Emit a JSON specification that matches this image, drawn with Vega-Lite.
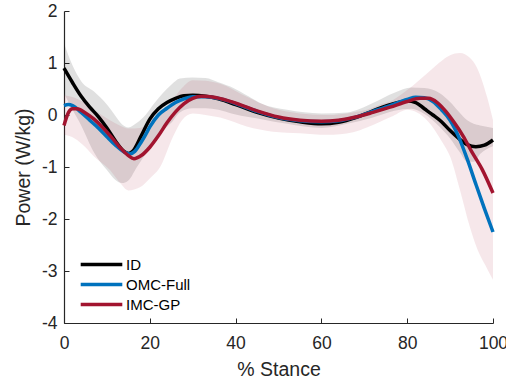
{
  "$schema": "https://vega.github.io/schema/vega-lite/v6.json",
  "width": 429,
  "height": 312,
  "autosize": {"type": "none"},
  "padding": {"left": 64, "top": 11, "right": 13, "bottom": 58},
  "config": {
    "view": {"stroke": null},
    "font": "Liberation Sans",
    "axis": {
      "grid": false,
      "labelFlush": false,
      "domainColor": "#262626",
      "domainWidth": 1.2,
      "tickColor": "#262626",
      "tickSize": -5,
      "labelColor": "#262626",
      "titleColor": "#262626",
      "labelFontSize": 17.5,
      "titleFontSize": 19.5,
      "titleFontWeight": "normal",
      "labelFont": "Liberation Sans",
      "titleFont": "Liberation Sans",
      "labelExpr": "replace(datum.label, '\u2212', '-')"
    },
    "legend": {"labelFont": "Liberation Sans"}
  },
  "datasets": {
    "lines": [
      {"series": "ID", "x": 0, "y": 0.9}, {"series": "ID", "x": 2, "y": 0.62}, {"series": "ID", "x": 4, "y": 0.36}, {"series": "ID", "x": 6, "y": 0.15}, {"series": "ID", "x": 8, "y": -0.03}, {"series": "ID", "x": 10, "y": -0.25}, {"series": "ID", "x": 12, "y": -0.5}, {"series": "ID", "x": 14, "y": -0.7}, {"series": "ID", "x": 15, "y": -0.74}, {"series": "ID", "x": 16, "y": -0.7}, {"series": "ID", "x": 18, "y": -0.4}, {"series": "ID", "x": 20, "y": -0.08}, {"series": "ID", "x": 22, "y": 0.12}, {"series": "ID", "x": 24, "y": 0.24}, {"series": "ID", "x": 26, "y": 0.32}, {"series": "ID", "x": 28, "y": 0.37}, {"series": "ID", "x": 30, "y": 0.38}, {"series": "ID", "x": 33, "y": 0.36}, {"series": "ID", "x": 36, "y": 0.31}, {"series": "ID", "x": 40, "y": 0.2}, {"series": "ID", "x": 45, "y": 0.05}, {"series": "ID", "x": 50, "y": -0.06}, {"series": "ID", "x": 55, "y": -0.13}, {"series": "ID", "x": 60, "y": -0.17}, {"series": "ID", "x": 64, "y": -0.14}, {"series": "ID", "x": 68, "y": -0.05}, {"series": "ID", "x": 72, "y": 0.08}, {"series": "ID", "x": 76, "y": 0.2}, {"series": "ID", "x": 80, "y": 0.27}, {"series": "ID", "x": 82, "y": 0.24}, {"series": "ID", "x": 84, "y": 0.12}, {"series": "ID", "x": 86, "y": 0.0}, {"series": "ID", "x": 88, "y": -0.13}, {"series": "ID", "x": 90, "y": -0.3}, {"series": "ID", "x": 92, "y": -0.45}, {"series": "ID", "x": 94, "y": -0.57}, {"series": "ID", "x": 96, "y": -0.61}, {"series": "ID", "x": 98, "y": -0.58}, {"series": "ID", "x": 100, "y": -0.48},
      {"series": "OMC-Full", "x": 0, "y": 0.18}, {"series": "OMC-Full", "x": 1, "y": 0.2}, {"series": "OMC-Full", "x": 2, "y": 0.18}, {"series": "OMC-Full", "x": 4, "y": 0.05}, {"series": "OMC-Full", "x": 6, "y": -0.1}, {"series": "OMC-Full", "x": 8, "y": -0.25}, {"series": "OMC-Full", "x": 10, "y": -0.42}, {"series": "OMC-Full", "x": 12, "y": -0.58}, {"series": "OMC-Full", "x": 14, "y": -0.71}, {"series": "OMC-Full", "x": 15.3, "y": -0.75}, {"series": "OMC-Full", "x": 16.5, "y": -0.7}, {"series": "OMC-Full", "x": 18, "y": -0.52}, {"series": "OMC-Full", "x": 19, "y": -0.38}, {"series": "OMC-Full", "x": 20, "y": -0.23}, {"series": "OMC-Full", "x": 22, "y": 0.0}, {"series": "OMC-Full", "x": 24, "y": 0.13}, {"series": "OMC-Full", "x": 26, "y": 0.24}, {"series": "OMC-Full", "x": 28, "y": 0.31}, {"series": "OMC-Full", "x": 30, "y": 0.35}, {"series": "OMC-Full", "x": 33, "y": 0.35}, {"series": "OMC-Full", "x": 37, "y": 0.3}, {"series": "OMC-Full", "x": 40, "y": 0.22}, {"series": "OMC-Full", "x": 45, "y": 0.07}, {"series": "OMC-Full", "x": 50, "y": -0.05}, {"series": "OMC-Full", "x": 55, "y": -0.11}, {"series": "OMC-Full", "x": 60, "y": -0.13}, {"series": "OMC-Full", "x": 64, "y": -0.11}, {"series": "OMC-Full", "x": 68, "y": -0.04}, {"series": "OMC-Full", "x": 72, "y": 0.07}, {"series": "OMC-Full", "x": 76, "y": 0.18}, {"series": "OMC-Full", "x": 80, "y": 0.3}, {"series": "OMC-Full", "x": 82, "y": 0.34}, {"series": "OMC-Full", "x": 84, "y": 0.33}, {"series": "OMC-Full", "x": 86, "y": 0.26}, {"series": "OMC-Full", "x": 88, "y": 0.1}, {"series": "OMC-Full", "x": 90, "y": -0.1}, {"series": "OMC-Full", "x": 92, "y": -0.42}, {"series": "OMC-Full", "x": 94, "y": -0.85}, {"series": "OMC-Full", "x": 96, "y": -1.33}, {"series": "OMC-Full", "x": 98, "y": -1.8}, {"series": "OMC-Full", "x": 100, "y": -2.25},
      {"series": "IMC-GP", "x": 0, "y": -0.2}, {"series": "IMC-GP", "x": 1, "y": 0.04}, {"series": "IMC-GP", "x": 2, "y": 0.12}, {"series": "IMC-GP", "x": 3, "y": 0.12}, {"series": "IMC-GP", "x": 5, "y": 0.04}, {"series": "IMC-GP", "x": 7, "y": -0.08}, {"series": "IMC-GP", "x": 9, "y": -0.24}, {"series": "IMC-GP", "x": 11, "y": -0.42}, {"series": "IMC-GP", "x": 13, "y": -0.62}, {"series": "IMC-GP", "x": 15, "y": -0.78}, {"series": "IMC-GP", "x": 16.3, "y": -0.84}, {"series": "IMC-GP", "x": 18, "y": -0.78}, {"series": "IMC-GP", "x": 20, "y": -0.62}, {"series": "IMC-GP", "x": 22, "y": -0.4}, {"series": "IMC-GP", "x": 24, "y": -0.15}, {"series": "IMC-GP", "x": 26, "y": 0.06}, {"series": "IMC-GP", "x": 28, "y": 0.22}, {"series": "IMC-GP", "x": 30, "y": 0.32}, {"series": "IMC-GP", "x": 32, "y": 0.36}, {"series": "IMC-GP", "x": 35, "y": 0.34}, {"series": "IMC-GP", "x": 38, "y": 0.28}, {"series": "IMC-GP", "x": 41, "y": 0.2}, {"series": "IMC-GP", "x": 45, "y": 0.08}, {"series": "IMC-GP", "x": 50, "y": -0.04}, {"series": "IMC-GP", "x": 55, "y": -0.1}, {"series": "IMC-GP", "x": 60, "y": -0.12}, {"series": "IMC-GP", "x": 64, "y": -0.1}, {"series": "IMC-GP", "x": 68, "y": -0.04}, {"series": "IMC-GP", "x": 72, "y": 0.05}, {"series": "IMC-GP", "x": 76, "y": 0.15}, {"series": "IMC-GP", "x": 80, "y": 0.26}, {"series": "IMC-GP", "x": 83, "y": 0.32}, {"series": "IMC-GP", "x": 85, "y": 0.32}, {"series": "IMC-GP", "x": 87, "y": 0.24}, {"series": "IMC-GP", "x": 89, "y": 0.07}, {"series": "IMC-GP", "x": 91, "y": -0.15}, {"series": "IMC-GP", "x": 93, "y": -0.4}, {"series": "IMC-GP", "x": 95, "y": -0.7}, {"series": "IMC-GP", "x": 97.5, "y": -1.05}, {"series": "IMC-GP", "x": 100, "y": -1.5}
    ],
    "bands": [
      {"series": "ID", "x": 0, "lo": 0.42, "hi": 1.38}, {"series": "ID", "x": 2, "lo": 0.1, "hi": 0.95}, {"series": "ID", "x": 4, "lo": -0.2, "hi": 0.65}, {"series": "ID", "x": 7, "lo": -0.72, "hi": 0.45}, {"series": "ID", "x": 10, "lo": -1.06, "hi": 0.2}, {"series": "ID", "x": 12, "lo": -1.25, "hi": -0.02}, {"series": "ID", "x": 13.5, "lo": -1.31, "hi": -0.18}, {"series": "ID", "x": 15, "lo": -1.26, "hi": -0.24}, {"series": "ID", "x": 17, "lo": -1.0, "hi": -0.15}, {"series": "ID", "x": 19, "lo": -0.75, "hi": 0.0}, {"series": "ID", "x": 21, "lo": -0.5, "hi": 0.22}, {"series": "ID", "x": 23, "lo": -0.3, "hi": 0.42}, {"series": "ID", "x": 25, "lo": -0.15, "hi": 0.58}, {"series": "ID", "x": 27, "lo": 0.05, "hi": 0.7}, {"series": "ID", "x": 30, "lo": 0.13, "hi": 0.72}, {"series": "ID", "x": 33, "lo": 0.13, "hi": 0.71}, {"series": "ID", "x": 36, "lo": 0.1, "hi": 0.63}, {"series": "ID", "x": 39.5, "lo": 0.02, "hi": 0.52}, {"series": "ID", "x": 43, "lo": -0.04, "hi": 0.36}, {"series": "ID", "x": 46, "lo": -0.08, "hi": 0.22}, {"series": "ID", "x": 52, "lo": -0.17, "hi": 0.1}, {"series": "ID", "x": 60, "lo": -0.25, "hi": 0.03}, {"series": "ID", "x": 66, "lo": -0.17, "hi": 0.05}, {"series": "ID", "x": 72, "lo": -0.05, "hi": 0.23}, {"series": "ID", "x": 77, "lo": 0.08, "hi": 0.43}, {"series": "ID", "x": 81, "lo": 0.12, "hi": 0.53}, {"series": "ID", "x": 84, "lo": 0.02, "hi": 0.52}, {"series": "ID", "x": 87.6, "lo": -0.23, "hi": 0.42}, {"series": "ID", "x": 90, "lo": -0.45, "hi": 0.25}, {"series": "ID", "x": 92.3, "lo": -0.72, "hi": 0.04}, {"series": "ID", "x": 94, "lo": -0.9, "hi": -0.1}, {"series": "ID", "x": 95.5, "lo": -0.9, "hi": -0.17}, {"series": "ID", "x": 97, "lo": -0.75, "hi": -0.2}, {"series": "ID", "x": 100, "lo": -0.6, "hi": -0.25},
      {"series": "IMC-GP", "x": 0, "lo": -0.38, "hi": 0.38}, {"series": "IMC-GP", "x": 2.5, "lo": -0.45, "hi": 0.33}, {"series": "IMC-GP", "x": 5, "lo": -0.62, "hi": 0.22}, {"series": "IMC-GP", "x": 7, "lo": -0.8, "hi": 0.1}, {"series": "IMC-GP", "x": 10.7, "lo": -1.06, "hi": -0.1}, {"series": "IMC-GP", "x": 13, "lo": -1.3, "hi": -0.2}, {"series": "IMC-GP", "x": 15, "lo": -1.45, "hi": -0.26}, {"series": "IMC-GP", "x": 17.7, "lo": -1.39, "hi": -0.25}, {"series": "IMC-GP", "x": 20, "lo": -1.22, "hi": -0.12}, {"series": "IMC-GP", "x": 22.4, "lo": -1.0, "hi": 0.05}, {"series": "IMC-GP", "x": 25.4, "lo": -0.42, "hi": 0.3}, {"series": "IMC-GP", "x": 27.5, "lo": -0.1, "hi": 0.52}, {"series": "IMC-GP", "x": 30, "lo": 0.03, "hi": 0.67}, {"series": "IMC-GP", "x": 33, "lo": 0.0, "hi": 0.66}, {"series": "IMC-GP", "x": 36.4, "lo": -0.05, "hi": 0.6}, {"series": "IMC-GP", "x": 42.6, "lo": -0.22, "hi": 0.35}, {"series": "IMC-GP", "x": 48.7, "lo": -0.32, "hi": 0.13}, {"series": "IMC-GP", "x": 55, "lo": -0.35, "hi": 0.03}, {"series": "IMC-GP", "x": 61.3, "lo": -0.38, "hi": 0.0}, {"series": "IMC-GP", "x": 67.4, "lo": -0.33, "hi": 0.05}, {"series": "IMC-GP", "x": 70.6, "lo": -0.24, "hi": 0.1}, {"series": "IMC-GP", "x": 73.7, "lo": -0.13, "hi": 0.2}, {"series": "IMC-GP", "x": 76.7, "lo": -0.02, "hi": 0.29}, {"series": "IMC-GP", "x": 80, "lo": 0.1, "hi": 0.48}, {"series": "IMC-GP", "x": 84.6, "lo": -0.1, "hi": 0.8}, {"series": "IMC-GP", "x": 88.3, "lo": -0.54, "hi": 1.06}, {"series": "IMC-GP", "x": 90, "lo": -0.8, "hi": 1.15}, {"series": "IMC-GP", "x": 92.3, "lo": -1.44, "hi": 1.19}, {"series": "IMC-GP", "x": 94.6, "lo": -2.15, "hi": 1.1}, {"series": "IMC-GP", "x": 96.2, "lo": -2.55, "hi": 0.92}, {"series": "IMC-GP", "x": 98.6, "lo": -2.95, "hi": 0.35}, {"series": "IMC-GP", "x": 100, "lo": -3.17, "hi": -0.1}
    ]
  },
  "encoding": {
    "x": {
      "field": "x", "type": "quantitative",
      "scale": {"domain": [0, 100], "nice": false, "zero": false},
      "axis": {"values": [0, 20, 40, 60, 80, 100], "title": "% Stance", "labelPadding": 16, "titlePadding": 9}
    }
  },
  "layer": [
    {
      "data": {"name": "bands"},
      "transform": [{"filter": "datum.series === 'ID'"}],
      "mark": {"type": "area", "color": "#000000", "opacity": 0.12, "interpolate": "monotone"},
      "encoding": {
        "y": {"field": "lo", "type": "quantitative", "scale": {"domain": [-4, 2], "nice": false, "zero": false},
              "axis": {"values": [-4, -3, -2, -1, 0, 1, 2], "title": "Power (W/kg)", "labelPadding": 12, "titlePadding": 8}},
        "y2": {"field": "hi"}
      }
    },
    {
      "data": {"name": "bands"},
      "transform": [{"filter": "datum.series === 'IMC-GP'"}],
      "mark": {"type": "area", "color": "#A2142F", "opacity": 0.1, "interpolate": "monotone"},
      "encoding": {
        "y": {"field": "lo", "type": "quantitative"},
        "y2": {"field": "hi"}
      }
    },
    {
      "data": {"name": "lines"},
      "mark": {"type": "line", "strokeWidth": 3.5, "interpolate": "monotone"},
      "encoding": {
        "y": {"field": "y", "type": "quantitative"},
        "color": {
          "field": "series", "type": "nominal",
          "scale": {"domain": ["ID", "OMC-Full", "IMC-GP"], "range": ["#000000", "#0072BD", "#A2142F"]},
          "legend": {
            "title": null, "orient": "none", "legendX": 29, "legendY": 245,
            "symbolType": "M-3.2,0H3.2", "symbolSize": 169, "symbolStrokeWidth": 3.5,
            "labelFontSize": 15, "labelColor": "#000000", "labelOffset": 16, "rowPadding": 3, "padding": 0
          }
        }
      }
    }
  ]
}
